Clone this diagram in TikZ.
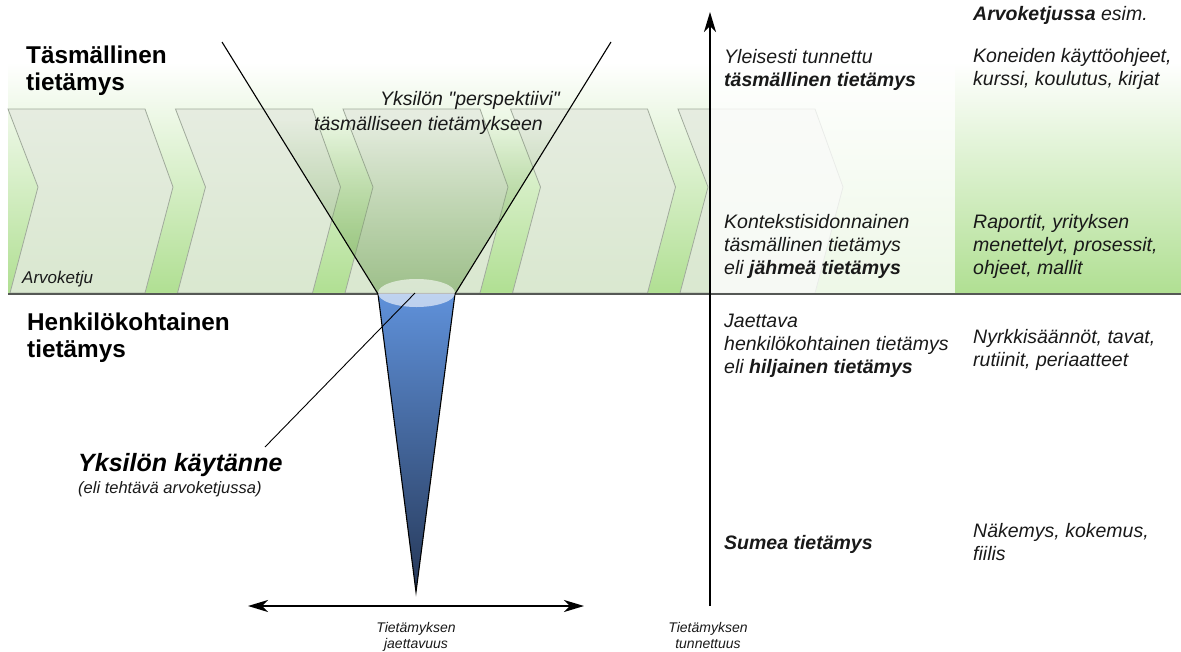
\documentclass[tikz,border=0pt]{standalone}
\usepackage{fontspec}
\setmainfont{Liberation Sans}[Ligatures=TeXOff]
\usetikzlibrary{arrows.meta,fadings}

\definecolor{bandgreen}{RGB}{176,223,146}
\definecolor{chevfill}{RGB}{228,234,223}
\definecolor{chevline}{RGB}{160,170,155}
\definecolor{funnelgreen}{RGB}{118,165,92}
\definecolor{conetop}{RGB}{95,145,218}
\definecolor{conebot}{RGB}{38,56,88}
\definecolor{basegray}{RGB}{85,88,85}
\definecolor{ink}{RGB}{25,25,25}

\tikzset{
  chevron/.style={fill=chevfill, fill opacity=0.8, draw=chevline, line width=0.8pt},
  edge/.style={draw=black, line width=1.1pt},
  axisarrow/.style={line width=2pt, {Stealth[length=20pt,width=12pt,inset=6pt]}-{Stealth[length=20pt,width=12pt,inset=6pt]}},
  heading/.style={font=\fontsize{24.3}{27}\selectfont\bfseries, anchor=base west, inner sep=0pt, align=left, text=black},
  coltext/.style={font=\fontsize{19.5}{23}\selectfont\itshape, anchor=base west, inner sep=0pt, align=left, text=ink},
  smalltext/.style={font=\fontsize{14}{16}\selectfont\itshape, inner sep=0pt, align=center, text=ink},
}

\begin{document}
\begin{tikzpicture}[x=1pt,y=-1pt]
\useasboundingbox (0,0) rectangle (1181,651);

% green band behind the value chain
\shade[top color=white, bottom color=bandgreen] (8,62) rectangle (1181,294);

% value chain chevrons
\foreach \i in {0,...,4}{
  \pgfmathsetmacro{\xo}{8+167.5*\i}
  \filldraw[chevron] (\xo,109) -- ++(137,0) -- ++(28,78) -- ++(-28,106)
    -- ++(-135,0) -- ++(28,-106) -- cycle;
}

% darkening inside the perspective funnel
\fill[funnelgreen, fill opacity=0.6, path fading=north]
  (270,120) -- (563,120) -- (455,294) -- (378,294) -- cycle;

% lighter area right of the vertical axis
\fill[white, opacity=0.78] (711,62) rectangle (955,294);

% baseline of the band
\draw[basegray, line width=1.3pt] (8,294) -- (1181,294);

% the individual's practice (cone)
\coordinate (coneL) at (378,294);
\coordinate (coneR) at (455,294);
\coordinate (coneTip) at (416,592);
\shade[top color=conetop, bottom color=conebot] (coneL) -- (coneR) -- (coneTip) -- cycle;
\draw[edge] (coneL) -- (coneTip) -- (coneR);
\fill[white, opacity=0.6] (416.5,293) ellipse [x radius=38.5, y radius=14];
\coordinate (ellC) at (415,293);

% perspective lines
\coordinate (vTL) at (222,42);
\coordinate (vTR) at (611,42);
\draw[edge] (vTL) -- (coneL);
\draw[edge] (vTR) -- (coneR);

% axes
\coordinate (vBot) at (710,606);
\coordinate (vTop) at (710,12);
\draw[line width=2pt, -{Stealth[length=20pt,width=12pt,inset=6pt]}] (vBot) -- (vTop);
\coordinate (hL) at (248,606);
\coordinate (hR) at (584,606);
\draw[axisarrow] (hL) -- (hR);

% left-side labels (base anchors sit on the last line)
\node[heading] (tasm) at (26,90) {Täsmällinen\\tietämys};
\node[heading] (henk) at (27,357) {Henkilökohtainen\\tietämys};
\node[font=\fontsize{17}{19}\selectfont\itshape, anchor=base west, inner sep=0pt, text=ink] (arvo) at (22,283) {Arvoketju};
\node[coltext, anchor=base east] (persA) at (560,105) {Yksilön "perspektiivi"};
\node[coltext, anchor=base east] (persB) at (543,130) {täsmälliseen tietämykseen};
\node[font=\fontsize{25}{28}\selectfont\bfseries\itshape, anchor=base west, inner sep=0pt, text=black] (kayt) at (78,471) {Yksilön käytänne};
\node[font=\fontsize{16.5}{19}\selectfont\itshape, anchor=base west, inner sep=0pt, text=ink] (kaytB) at (78,493) {(eli tehtävä arvoketjussa)};
\coordinate (lead) at (265,447);
\draw[line width=0.9pt] (ellC) -- (lead);

% axis captions
\node[smalltext, anchor=base] (jaet) at (416,648) {Tietämyksen\\jaettavuus};
\node[smalltext, anchor=base] (tunn) at (708,648) {Tietämyksen\\tunnettuus};

% knowledge types
\node[coltext] (k1) at (724,86) {Yleisesti tunnettu\\\textbf{täsmällinen tietämys}};
\node[coltext] (k2) at (724,274) {Kontekstisidonnainen\\täsmällinen tietämys\\eli \textbf{jähmeä tietämys}};
\node[coltext] (k3) at (724,373) {Jaettava\\henkilökohtainen tietämys\\eli \textbf{hiljainen tietämys}};
\node[coltext] (k4) at (724,549) {\textbf{Sumea tietämys}};

% examples in the value chain
\node[coltext] (e0) at (973,20) {\textbf{Arvoketjussa} esim.};
\node[coltext] (e1) at (973,85) {Koneiden käyttöohjeet,\\kurssi, koulutus, kirjat};
\node[coltext] (e2) at (973,274) {Raportit, yrityksen\\menettelyt, prosessit,\\ohjeet, mallit};
\node[coltext] (e3) at (973,366) {Nyrkkisäännöt, tavat,\\rutiinit, periaatteet};
\node[coltext] (e4) at (973,560) {Näkemys, kokemus,\\fiilis};
\end{tikzpicture}
\end{document}
